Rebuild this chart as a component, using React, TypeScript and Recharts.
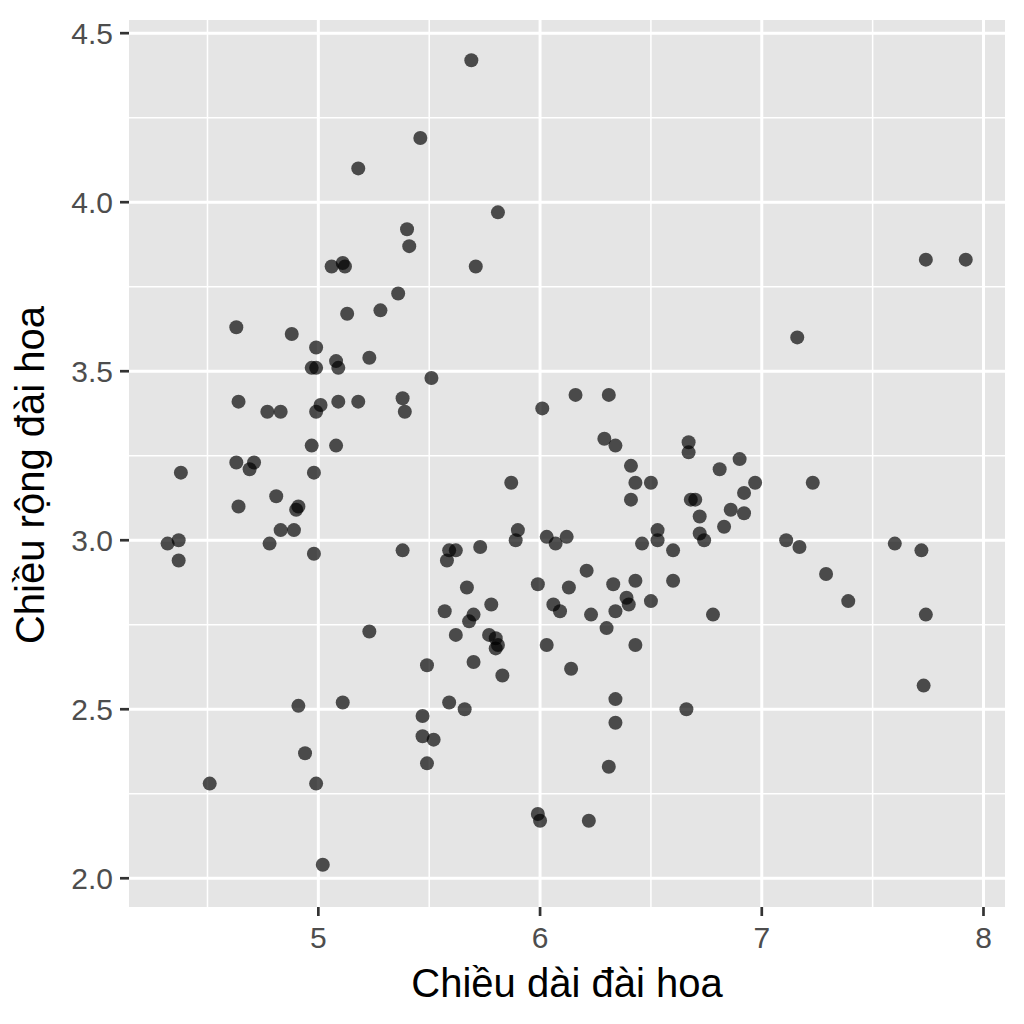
import { CartesianGrid, Label, Scatter, ScatterChart, XAxis, YAxis } from "recharts";

// sepal length (x) and sepal width (y)
const sepalLength = [
  4.32, 4.37, 4.37, 4.38, 4.51, 4.63, 4.64, 4.63, 4.64, 4.69,
  4.71, 4.77, 4.78, 4.83, 4.81, 4.83, 4.88, 4.89, 4.9, 4.91,
  4.91, 4.94, 4.97, 4.97, 4.98, 4.98, 4.99, 4.99, 4.99, 4.99,
  5.01, 5.02, 5.06, 5.08, 5.09, 5.09, 5.08, 5.11, 5.12, 5.11,
  5.13, 5.18, 5.18, 5.23, 5.23, 5.28, 5.36, 5.38, 5.39, 5.38,
  5.4, 5.41, 5.46, 5.51, 5.47, 5.47, 5.49, 5.49, 5.52, 5.57,
  5.58, 5.59, 5.59, 5.62, 5.62, 5.66, 5.67, 5.68, 5.7, 5.7,
  5.69, 5.71, 5.73, 5.78, 5.77, 5.8, 5.8, 5.81, 5.81, 5.83,
  5.87, 5.89, 5.9, 5.99, 5.99, 6.0, 6.01, 6.03, 6.03, 6.06,
  6.07, 6.09, 6.12, 6.13, 6.14, 6.16, 6.21, 6.22, 6.23, 6.29,
  6.3, 6.31, 6.31, 6.33, 6.34, 6.34, 6.34, 6.34, 6.39, 6.41,
  6.4, 6.41, 6.43, 6.43, 6.43, 6.46, 6.5, 6.5, 6.53, 6.53,
  6.6, 6.6, 6.66, 6.67, 6.67, 6.68, 6.7, 6.72, 6.72, 6.74,
  6.78, 6.81, 6.83, 6.86, 6.9, 6.92, 6.92, 6.97, 7.11, 7.16,
  7.17, 7.23, 7.29, 7.39, 7.6, 7.72, 7.73, 7.74, 7.74, 7.92,
];

const sepalWidth = [
  2.99, 3.0, 2.94, 3.2, 2.28, 3.63, 3.41, 3.23, 3.1, 3.21,
  3.23, 3.38, 2.99, 3.38, 3.13, 3.03, 3.61, 3.03, 3.09, 3.1,
  2.51, 2.37, 3.51, 3.28, 3.2, 2.96, 2.28, 3.57, 3.51, 3.38,
  3.4, 2.04, 3.81, 3.53, 3.51, 3.41, 3.28, 3.82, 3.81, 2.52,
  3.67, 4.1, 3.41, 3.54, 2.73, 3.68, 3.73, 3.42, 3.38, 2.97,
  3.92, 3.87, 4.19, 3.48, 2.48, 2.42, 2.63, 2.34, 2.41, 2.79,
  2.94, 2.97, 2.52, 2.72, 2.97, 2.5, 2.86, 2.76, 2.78, 2.64,
  4.42, 3.81, 2.98, 2.81, 2.72, 2.71, 2.68, 2.69, 3.97, 2.6,
  3.17, 3.0, 3.03, 2.87, 2.19, 2.17, 3.39, 3.01, 2.69, 2.81,
  2.99, 2.79, 3.01, 2.86, 2.62, 3.43, 2.91, 2.17, 2.78, 3.3,
  2.74, 3.43, 2.33, 2.87, 2.79, 2.46, 3.28, 2.53, 2.83, 3.22,
  2.81, 3.12, 3.17, 2.88, 2.69, 2.99, 3.17, 2.82, 3.03, 3.0,
  2.97, 2.88, 2.5, 3.29, 3.26, 3.12, 3.12, 3.07, 3.02, 3.0,
  2.78, 3.21, 3.04, 3.09, 3.24, 3.14, 3.08, 3.17, 3.0, 3.6,
  2.98, 3.17, 2.9, 2.82, 2.99, 2.97, 2.57, 2.78, 3.83, 3.83,
];

const xTicks = [5, 6, 7, 8];
const xMinor = [4.5, 5.5, 6.5, 7.5];
const yTicks = [2.0, 2.5, 3.0, 3.5, 4.0, 4.5];
const yMinor = [2.25, 2.75, 3.25, 3.75, 4.25];

const xTitle = "Chiều dài đài hoa";
const yTitle = "Chiều rộng đài hoa";

const FONT = "'Liberation Sans', Arial, sans-serif";

const points = sepalLength.map((x, i) => ({ x, y: sepalWidth[i] }));

function Dot(props: any) {
  return <circle cx={props.cx} cy={props.cy} r={7} fill="#000" fillOpacity={0.68} />;
}

export default function App() {
  return (
    <div style={{ position: "absolute", left: 0, top: 0, width: 1024, height: 1024, background: "#fff" }}>
      <ScatterChart width={1024} height={1024} margin={{ top: 20, right: 19, bottom: 0, left: 0 }}>
        <CartesianGrid
          horizontalValues={yMinor}
          verticalValues={xMinor}
          stroke="#fff"
          strokeWidth={1.5}
          fill="#E5E5E5"
          fillOpacity={1}
        />
        <CartesianGrid horizontalValues={yTicks} verticalValues={xTicks} stroke="#fff" strokeWidth={3} />
        <XAxis
          type="number"
          dataKey="x"
          domain={[4.146, 8.097]}
          ticks={xTicks}
          allowDataOverflow
          height={117}
          axisLine={false}
          tickSize={9}
          tickMargin={11}
          tickLine={{ stroke: "#333", strokeWidth: 2.7 }}
          tick={{ fill: "#4D4D4D", fontSize: 30, fontFamily: FONT }}
        >
          <Label
            content={({ viewBox }: any) => (
              <text
                x={viewBox.x + viewBox.width / 2}
                y={viewBox.y + 90}
                textAnchor="middle"
                fontSize={40}
                fontFamily={FONT}
                fill="#000"
              >
                {xTitle}
              </text>
            )}
          />
        </XAxis>
        <YAxis
          type="number"
          dataKey="y"
          domain={[1.915, 4.539]}
          ticks={yTicks}
          allowDataOverflow
          width={129}
          axisLine={false}
          tickSize={9}
          tickMargin={7}
          tickLine={{ stroke: "#333", strokeWidth: 2.7 }}
          tickFormatter={(v: number) => v.toFixed(1)}
          tick={{ fill: "#4D4D4D", fontSize: 30, fontFamily: FONT }}
        >
          <Label
            content={() => (
              <text
                x={44}
                y={475}
                transform="rotate(-90, 44, 475)"
                textAnchor="middle"
                fontSize={40}
                fontFamily={FONT}
                fill="#000"
              >
                {yTitle}
              </text>
            )}
          />
        </YAxis>
        <Scatter data={points} shape={Dot} isAnimationActive={false} />
      </ScatterChart>
    </div>
  );
}
